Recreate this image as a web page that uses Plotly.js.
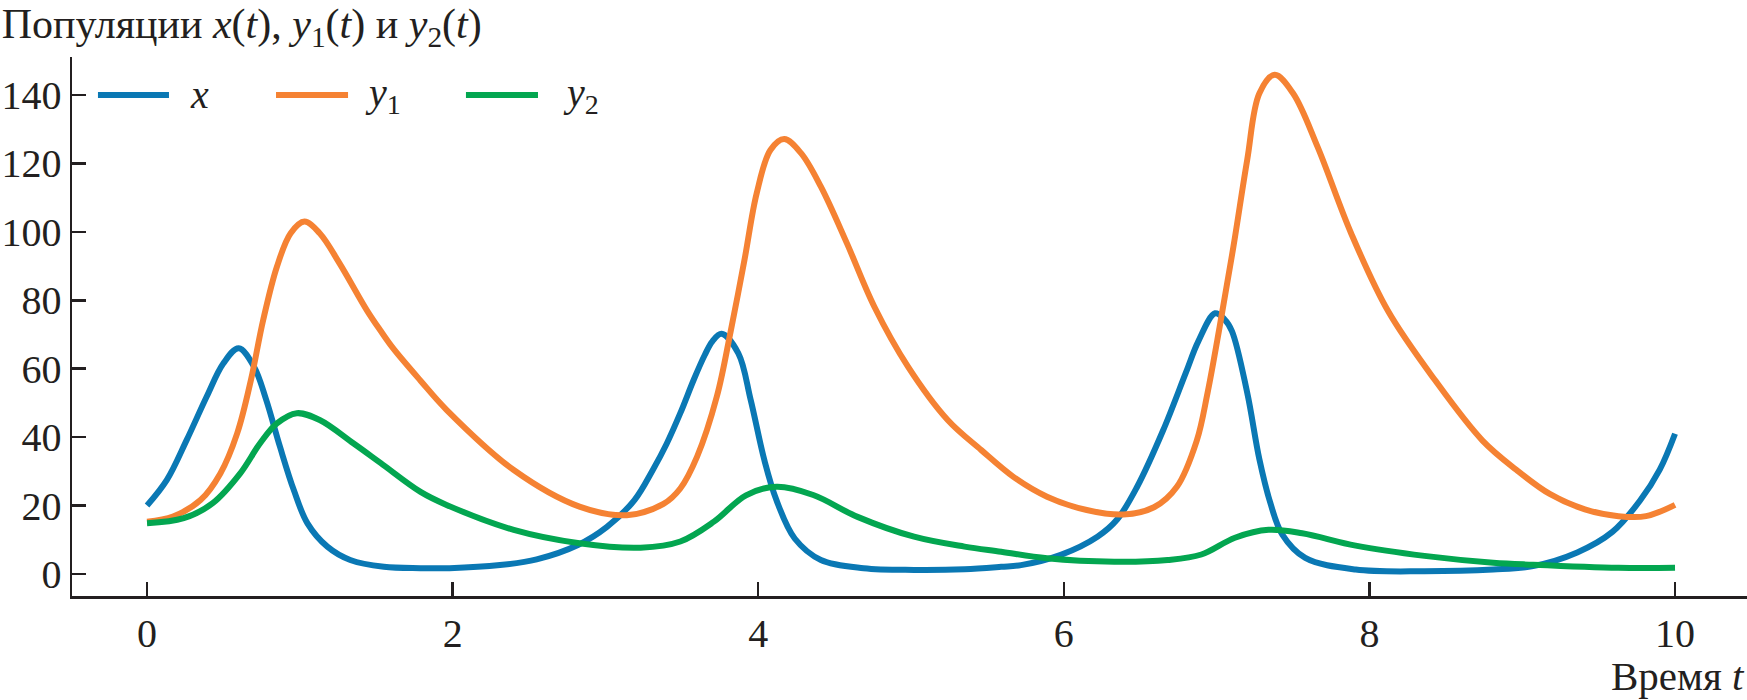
<!DOCTYPE html>
<html>
<head>
<meta charset="utf-8">
<script src="https://cdn.plot.ly/plotly-3.0.1.min.js"></script>
<style>
  html, body { margin: 0; padding: 0; background: #ffffff; }
  #chart { width: 1747px; height: 700px; }
</style>
</head>
<body>
<div id="chart"></div>
<script>
// ---- Data ----
const seriesNames = ['<i>x</i>', '<i>y</i><sub>1</sub>', '<i>y</i><sub>2</sub>'];
const seriesColors = ['#0a78b4', '#f58233', '#03a650'];

const tX = [0.00,0.13,0.26,0.39,0.50,0.60,0.70,0.78,0.87,0.96,1.05,1.18,1.33,1.55,1.79,1.98,2.31,2.55,2.82,3.01,3.19,3.31,3.40,3.49,3.58,3.65,3.70,3.76,3.87,3.95,4.04,4.12,4.24,4.41,4.69,5.02,5.35,5.59,5.72,5.98,6.22,6.35,6.48,6.65,6.80,6.88,6.99,7.05,7.10,7.20,7.28,7.35,7.43,7.58,7.91,8.36,8.81,9.07,9.36,9.59,9.77,9.90,10.00];
const xVals = [20.0,27.5,39.2,51.8,61.6,66.0,60.6,50.9,37.2,24.6,14.8,8.0,4.1,2.1,1.7,1.7,2.6,4.3,8.5,13.8,21.6,30.4,38.0,47.0,57.0,64.0,68.0,70.2,64.5,51.0,33.3,21.5,10.3,4.1,1.7,1.2,1.4,2.1,2.6,5.6,10.9,16.0,25.5,42.0,59.0,68.0,76.2,74.5,71.0,53.0,33.5,21.0,11.5,4.7,1.3,0.8,1.3,2.3,6.3,12.3,21.4,30.5,41.0];

const tY1 = [0.00,0.17,0.35,0.48,0.59,0.68,0.76,0.85,0.94,1.03,1.13,1.26,1.44,1.53,1.61,1.79,1.96,2.40,2.83,3.14,3.38,3.49,3.60,3.73,3.82,3.91,3.99,4.08,4.17,4.28,4.41,4.58,4.76,4.98,5.24,5.46,5.67,5.89,6.15,6.39,6.59,6.74,6.87,6.94,7.02,7.11,7.20,7.28,7.38,7.50,7.66,7.88,8.12,8.43,8.74,8.96,9.18,9.41,9.63,9.81,10.00];
const y1Vals = [15.3,16.8,21.6,29.4,41.1,56.7,74.2,89.8,99.6,103.0,99.6,90.8,77.0,71.0,66.0,56.5,48.0,30.4,19.7,17.2,20.5,25.0,34.3,52.0,71.0,91.8,111.3,123.9,127.1,123.0,113.2,96.7,78.1,60.6,45.0,36.2,28.4,22.6,18.7,17.4,19.5,25.5,39.0,52.8,72.3,95.7,121.0,140.5,145.9,140.5,124.9,99.6,77.0,56.6,39.0,30.5,23.4,18.9,16.9,16.9,20.2];

const tY2 = [0.00,0.24,0.43,0.61,0.74,0.85,0.98,1.13,1.35,1.53,1.79,1.96,2.40,2.83,3.23,3.49,3.71,3.92,4.12,4.36,4.65,5.02,5.35,5.59,5.89,6.33,6.68,6.90,7.12,7.34,7.56,7.91,8.36,8.81,9.07,9.63,10.00];
const y2Vals = [14.8,16.3,20.7,29.4,38.2,44.0,47.0,45.0,38.2,32.4,24.0,20.2,12.9,9.0,7.7,9.5,15.3,23.0,25.5,23.1,16.7,10.9,8.0,6.5,4.6,3.6,4.1,5.7,10.6,12.9,11.9,8.3,5.3,3.3,2.7,1.8,1.8];

const xTicks = [0, 2, 4, 6, 8, 10];
const yTicks = [0, 20, 40, 60, 80, 100, 120, 140];

const titleText = 'Популяции <i>x</i>(<i>t</i>), <i>y</i><sub>1</sub>(<i>t</i>) и <i>y</i><sub>2</sub>(<i>t</i>)';
const xTitleText = 'Время <i>t</i>';

// ---- Chart ----
const FONT = '"Liberation Serif", "Times New Roman", Times, serif';
const INK = '#231f20';
const FS = 40;
const LW = 6;

const tSets = [tX, tY1, tY2];
const vSets = [xVals, y1Vals, y2Vals];

const traces = tSets.map((t, i) => ({
  type: 'scatter',
  mode: 'lines',
  x: t,
  y: vSets[i],
  name: seriesNames[i],
  line: { color: seriesColors[i], width: LW, shape: 'spline', smoothing: 1.0 },
  showlegend: false,
  hoverinfo: 'skip'
}));

// Custom legend (long line samples like the reference)
const legLineX = [[0.0155, 0.0579], [0.1218, 0.1648], [0.2352, 0.2782]];
const legTextX = [0.0690, 0.1740, 0.2922];
const legY = 0.9295;

const shapes = legLineX.map((p, i) => ({
  type: 'line', xref: 'paper', yref: 'paper',
  x0: p[0], x1: p[1], y0: legY, y1: legY,
  line: { color: seriesColors[i], width: LW }
}));

const annotations = seriesNames.map((nm, i) => ({
  xref: 'paper', yref: 'paper', x: legTextX[i], y: legY,
  xanchor: 'left', yanchor: 'middle', showarrow: false,
  text: nm, font: { family: FONT, size: FS, color: INK }
}));

annotations.push({
  xref: 'paper', yref: 'paper', x: 1, y: -0.195,
  xanchor: 'right', yanchor: 'bottom', showarrow: false,
  text: xTitleText, font: { family: FONT, size: 41, color: INK }
});

const layout = {
  width: 1747,
  height: 700,
  paper_bgcolor: '#ffffff',
  plot_bgcolor: '#ffffff',
  margin: { l: 72, r: 0, t: 57, b: 104, pad: 0 },
  font: { family: FONT, size: FS, color: INK },
  title: {
    text: titleText,
    font: { family: FONT, size: 42, color: INK },
    xref: 'container', yref: 'container',
    x: 0.001, xanchor: 'left',
    y: 0.988, yanchor: 'top'
  },
  xaxis: {
    range: [-0.491, 10.471],
    tickvals: xTicks,
    ticktext: xTicks.map(String),
    ticks: 'inside', ticklen: 14, tickwidth: 2.5, tickcolor: INK,
    showline: true, linecolor: INK, linewidth: 2.5,
    showgrid: false, zeroline: false,
    tickfont: { family: FONT, size: FS, color: INK }
  },
  yaxis: {
    range: [-6.43, 151.1],
    tickvals: yTicks,
    ticktext: yTicks.map(String),
    ticks: 'inside', ticklen: 14, tickwidth: 2.5, tickcolor: INK,
    showline: true, linecolor: INK, linewidth: 2.5,
    showgrid: false, zeroline: false,
    tickfont: { family: FONT, size: FS, color: INK }
  },
  shapes: shapes,
  annotations: annotations,
  showlegend: false
};

Plotly.newPlot('chart', traces, layout, { staticPlot: true, displayModeBar: false });
</script>
</body>
</html>
